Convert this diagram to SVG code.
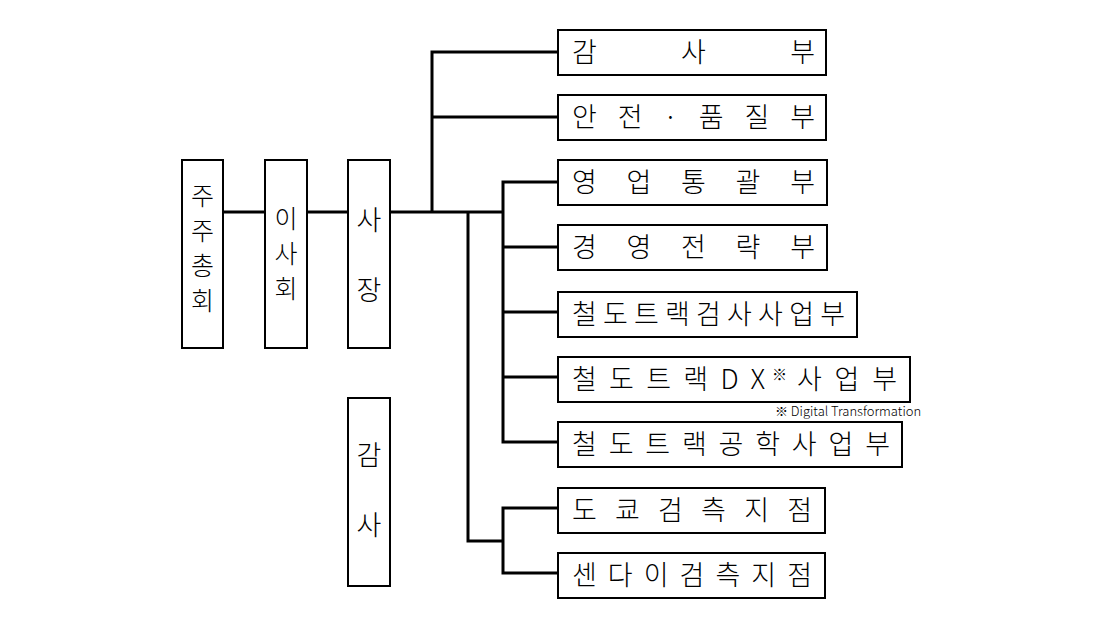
<svg xmlns="http://www.w3.org/2000/svg" width="1120" height="630" viewBox="0 0 1120 630">
<style>
rect{fill:#fff;stroke:#000;stroke-width:2}
.c line,.c polyline{stroke:#000;stroke-width:3;fill:none}
text{font-family:"Noto Sans CJK KR","Noto Sans",sans-serif;font-size:27px;fill:#000;font-weight:300}
.v{text-anchor:middle}
.s{font-size:25px}
.f{font-size:13px}
</style>
<rect width="1120" height="630" style="fill:#fff;stroke:none"/>
<g class="c">
<line x1="223" y1="212" x2="265" y2="212"/>
<line x1="307" y1="212" x2="348" y2="212"/>
<line x1="390" y1="212" x2="503" y2="212"/>
<polyline points="558,52 432,52 432,212"/>
<line x1="432" y1="117" x2="558" y2="117"/>
<polyline points="558,182 503,182 503,442 558,442"/>
<line x1="503" y1="247" x2="558" y2="247"/>
<line x1="503" y1="312" x2="558" y2="312"/>
<line x1="503" y1="377" x2="558" y2="377"/>
<polyline points="468,212 468,541 503,541"/>
<polyline points="558,508 503,508 503,573 558,573"/>
</g>
<g id="n1"><rect x="182" y="160" width="41" height="188"/><text class="v s" x="202.5" y="205">주</text><text class="v s" x="202.5" y="240">주</text><text class="v s" x="202.5" y="275">총</text><text class="v s" x="202.5" y="310">회</text></g>
<g id="n2"><rect x="265" y="160" width="42" height="188"/><text class="v s" x="286" y="228">이</text><text class="v s" x="286" y="263">사</text><text class="v s" x="286" y="298">회</text></g>
<g id="n3"><rect x="348" y="160" width="42" height="188"/><text class="v" x="369" y="230">사</text><text class="v" x="369" y="300">장</text></g>
<g id="n4"><rect x="348" y="398" width="42" height="188"/><text class="v" x="369" y="465">감</text><text class="v" x="369" y="535">사</text></g>
<g id="b1"><rect x="558" y="30" width="268" height="45"/><text x="572" y="62" textLength="243" lengthAdjust="spacing">감사부</text></g>
<g id="b2"><rect x="558" y="95" width="268" height="45"/><text x="572" y="127" textLength="243" lengthAdjust="spacing">안전·품질부</text></g>
<g id="b3"><rect x="558" y="160" width="269" height="45"/><text x="572" y="192" textLength="243" lengthAdjust="spacing">영업통괄부</text></g>
<g id="b4"><rect x="558" y="225" width="269" height="45"/><text x="572" y="257" textLength="243" lengthAdjust="spacing">경영전략부</text></g>
<g id="b5"><rect x="558" y="292" width="299" height="45"/><text x="572" y="324" textLength="273" lengthAdjust="spacing">철도트랙검사사업부</text></g>
<g id="b6"><rect x="558" y="357" width="352" height="45"/><text x="572" y="389" textLength="193" lengthAdjust="spacing">철도트랙DX</text><text x="772" y="380" style="font-size:15px">※</text><text x="797" y="389" textLength="100" lengthAdjust="spacing">사업부</text></g>
<text class="f" x="775" y="416">※ Digital Transformation</text>
<g id="b7"><rect x="558" y="422" width="344" height="45"/><text x="572" y="454" textLength="318" lengthAdjust="spacing">철도트랙공학사업부</text></g>
<g id="b8"><rect x="558" y="488" width="267" height="45"/><text x="572" y="520" textLength="240" lengthAdjust="spacing">도쿄검측지점</text></g>
<g id="b9"><rect x="558" y="553" width="267" height="45"/><text x="572" y="585" textLength="240" lengthAdjust="spacing">센다이검측지점</text></g>
</svg>
